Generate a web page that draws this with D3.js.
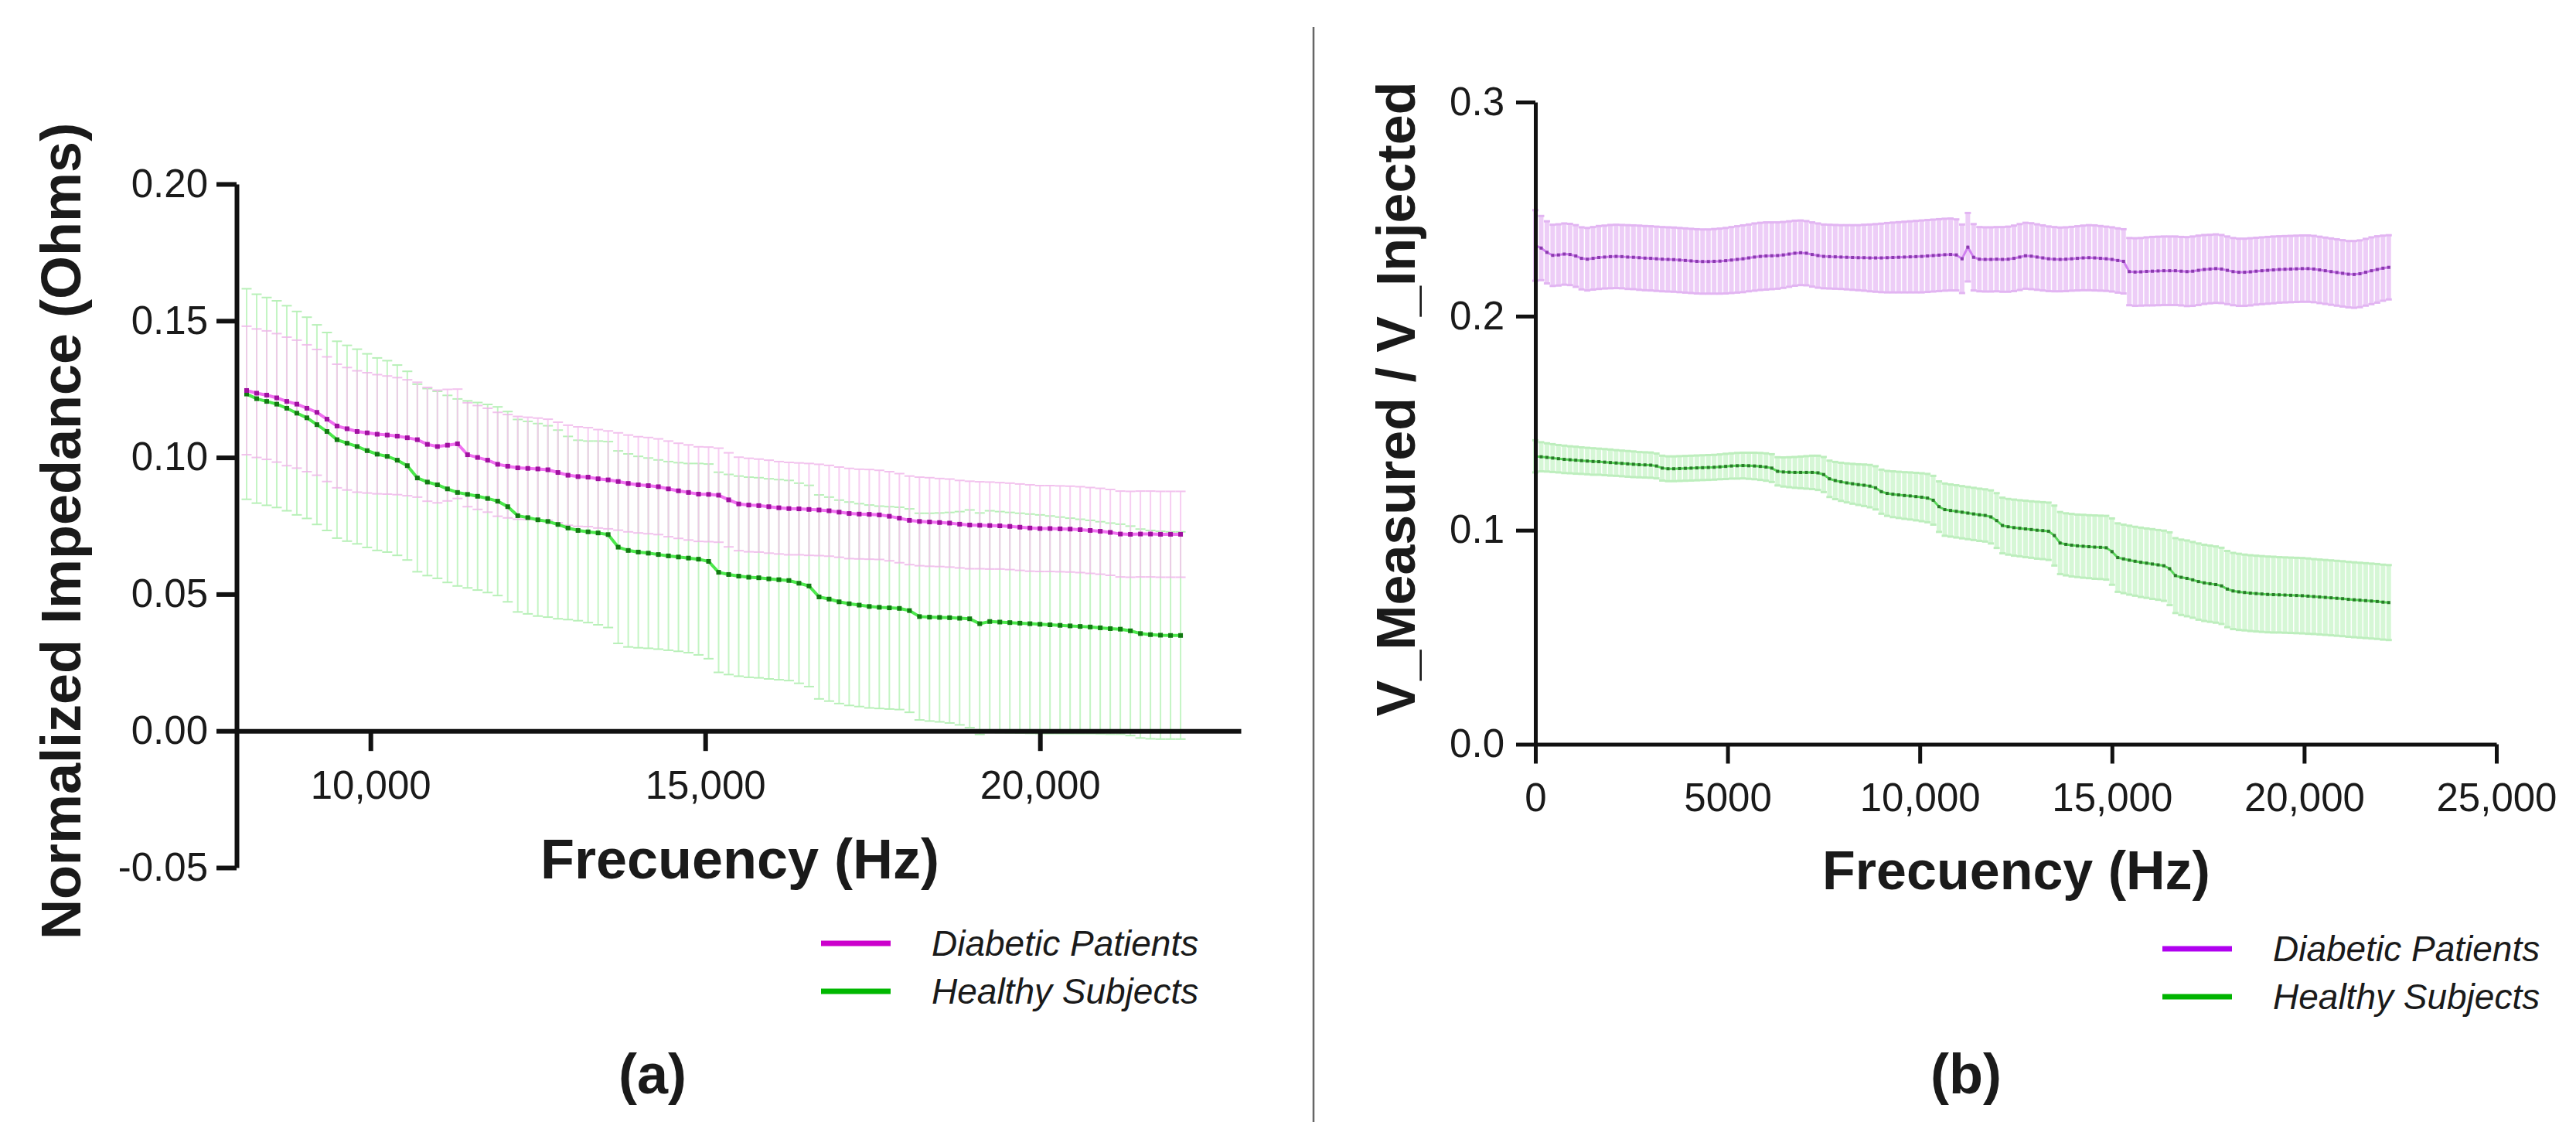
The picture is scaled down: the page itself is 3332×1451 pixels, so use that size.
<!DOCTYPE html>
<meta charset="utf-8">
<script src="https://d3js.org/d3.v7.min.js"></script>
<style>
body {
  margin: 0;
  background-color: white;
  overflow: hidden;
}
svg { display: block; }
text { font-family: "Liberation Sans", Arial, sans-serif; fill: #1a1a1a; }
</style>
<body>
<div id="rootElement"></div>
<script>

// ---- panel (a): normalized impedance ----
var freqA = [
  8150,8300,8450,8600,8750,8900,9050,9200,9350,9500,
  9650,9800,9950,10100,10250,10400,10550,10700,10850,11000,
  11150,11300,11450,11600,11750,11900,12050,12200,12350,12500,
  12650,12800,12950,13100,13250,13400,13550,13700,13850,14000,
  14150,14300,14450,14600,14750,14900,15050,15200,15350,15500,
  15650,15800,15950,16100,16250,16400,16550,16700,16850,17000,
  17150,17300,17450,17600,17750,17900,18050,18200,18350,18500,
  18650,18800,18950,19100,19250,19400,19550,19700,19850,20000,
  20150,20300,20450,20600,20750,20900,21050,21200,21350,21500,
  21650,21800,21950,22100
];
var diabeticMeanA = [
  0.1245,0.1235,0.1228,0.1218,0.1205,0.1195,0.1180,0.1165,0.1140,0.1115,
  0.1105,0.1095,0.1090,0.1085,0.1082,0.1078,0.1072,0.1065,0.1048,0.1040,
  0.1045,0.1050,0.1010,0.1000,0.0990,0.0975,0.0968,0.0962,0.0960,0.0958,
  0.0955,0.0945,0.0935,0.0930,0.0928,0.0922,0.0918,0.0912,0.0905,0.0900,
  0.0897,0.0893,0.0885,0.0878,0.0872,0.0866,0.0865,0.0862,0.0845,0.0830,
  0.0826,0.0824,0.0820,0.0816,0.0813,0.0812,0.0810,0.0808,0.0805,0.0800,
  0.0795,0.0793,0.0792,0.0790,0.0785,0.0778,0.0770,0.0766,0.0764,0.0762,
  0.0760,0.0756,0.0753,0.0752,0.0751,0.0750,0.0748,0.0745,0.0742,0.0740,
  0.0740,0.0739,0.0738,0.0736,0.0733,0.0730,0.0726,0.0720,0.0719,0.0720,
  0.0720,0.0719,0.0719,0.0719
];
var diabeticSdA = [
  0.0235,0.0235,0.0235,0.0235,0.0235,0.0234,0.0232,0.0230,0.0228,0.0226,
  0.0224,0.0222,0.0220,0.0218,0.0216,0.0214,0.0212,0.0210,0.0208,0.0206,
  0.0204,0.0200,0.0190,0.0190,0.0190,0.0190,0.0189,0.0188,0.0187,0.0186,
  0.0185,0.0184,0.0183,0.0182,0.0181,0.0180,0.0179,0.0178,0.0177,0.0176,
  0.0176,0.0175,0.0175,0.0174,0.0174,0.0173,0.0173,0.0172,0.0172,0.0171,
  0.0171,0.0170,0.0170,0.0169,0.0169,0.0168,0.0168,0.0167,0.0166,0.0165,
  0.0165,0.0164,0.0164,0.0163,0.0163,0.0163,0.0162,0.0162,0.0162,0.0161,
  0.0161,0.0160,0.0160,0.0159,0.0159,0.0158,0.0158,0.0158,0.0158,0.0157,
  0.0157,0.0157,0.0157,0.0157,0.0157,0.0157,0.0157,0.0157,0.0157,0.0157,
  0.0157,0.0157,0.0157,0.0157
];
var healthyMeanA = [
  0.1232,0.1215,0.1205,0.1195,0.1180,0.1162,0.1145,0.1120,0.1095,0.1065,
  0.1052,0.1040,0.1025,0.1012,0.1004,0.0990,0.0970,0.0925,0.0910,0.0900,
  0.0885,0.0872,0.0865,0.0858,0.0850,0.0840,0.0820,0.0787,0.0780,0.0772,
  0.0766,0.0755,0.0742,0.0733,0.0728,0.0724,0.0718,0.0672,0.0660,0.0654,
  0.0650,0.0645,0.0640,0.0636,0.0632,0.0628,0.0620,0.0580,0.0572,0.0566,
  0.0562,0.0560,0.0556,0.0553,0.0550,0.0540,0.0530,0.0490,0.0482,0.0472,
  0.0465,0.0460,0.0455,0.0452,0.0450,0.0448,0.0440,0.0418,0.0416,0.0415,
  0.0414,0.0412,0.0410,0.0392,0.0400,0.0398,0.0396,0.0394,0.0392,0.0390,
  0.0388,0.0386,0.0384,0.0382,0.0380,0.0377,0.0374,0.0372,0.0366,0.0356,
  0.0352,0.0350,0.0349,0.0349
];
var healthySdA = [
  0.0385,0.0382,0.0380,0.0378,0.0375,0.0372,0.0368,0.0365,0.0362,0.0360,
  0.0358,0.0356,0.0354,0.0352,0.0350,0.0348,0.0345,0.0343,0.0342,0.0342,
  0.0342,0.0342,0.0342,0.0343,0.0344,0.0345,0.0348,0.0352,0.0352,0.0352,
  0.0350,0.0345,0.0335,0.0330,0.0332,0.0336,0.0340,0.0352,0.0353,0.0350,
  0.0348,0.0346,0.0345,0.0345,0.0346,0.0350,0.0356,0.0366,0.0366,0.0366,
  0.0366,0.0366,0.0366,0.0366,0.0366,0.0366,0.0368,0.0373,0.0373,0.0372,
  0.0372,0.0371,0.0371,0.0370,0.0370,0.0370,0.0372,0.0378,0.0380,0.0382,
  0.0385,0.0390,0.0398,0.0405,0.0405,0.0404,0.0403,0.0402,0.0401,0.0400,
  0.0398,0.0396,0.0394,0.0392,0.0390,0.0388,0.0386,0.0384,0.0383,0.0382,
  0.0381,0.0380,0.0379,0.0379
];
var xTicksA = [10000, 15000, 20000];
var yTicksA = [-0.05, 0, 0.05, 0.10, 0.15, 0.20];

// ---- panel (b): V_Measured / V_Injected ----
var freqB = [
  0,150,300,450,600,750,900,1050,1200,1350,
  1500,1650,1800,1950,2100,2250,2400,2550,2700,2850,
  3000,3150,3300,3450,3600,3750,3900,4050,4200,4350,
  4500,4650,4800,4950,5100,5250,5400,5550,5700,5850,
  6000,6150,6300,6450,6600,6750,6900,7050,7200,7350,
  7500,7650,7800,7950,8100,8250,8400,8550,8700,8850,
  9000,9150,9300,9450,9600,9750,9900,10050,10200,10350,
  10500,10650,10800,10950,11100,11250,11400,11550,11700,11850,
  12000,12150,12300,12450,12600,12750,12900,13050,13200,13350,
  13500,13650,13800,13950,14100,14250,14400,14550,14700,14850,
  15000,15150,15300,15450,15600,15750,15900,16050,16200,16350,
  16500,16650,16800,16950,17100,17250,17400,17550,17700,17850,
  18000,18150,18300,18450,18600,18750,18900,19050,19200,19350,
  19500,19650,19800,19950,20100,20250,20400,20550,20700,20850,
  21000,21150,21300,21450,21600,21750,21900,22050,22200
];
var diabeticMeanB = [
  0.2330,0.2318,0.2298,0.2284,0.2286,0.2290,0.2288,0.2281,0.2270,0.2266,
  0.2270,0.2274,0.2276,0.2278,0.2279,0.2278,0.2276,0.2275,0.2273,0.2271,
  0.2270,0.2268,0.2266,0.2265,0.2264,0.2262,0.2260,0.2258,0.2256,0.2255,
  0.2255,0.2256,0.2257,0.2259,0.2262,0.2265,0.2268,0.2272,0.2276,0.2279,
  0.2281,0.2282,0.2283,0.2286,0.2290,0.2294,0.2296,0.2294,0.2288,0.2283,
  0.2279,0.2278,0.2277,0.2276,0.2275,0.2274,0.2273,0.2273,0.2272,0.2272,
  0.2272,0.2273,0.2274,0.2275,0.2276,0.2277,0.2278,0.2279,0.2281,0.2283,
  0.2285,0.2287,0.2288,0.2286,0.2268,0.2322,0.2275,0.2266,0.2265,0.2265,
  0.2266,0.2265,0.2266,0.2270,0.2276,0.2282,0.2280,0.2276,0.2272,0.2268,
  0.2266,0.2265,0.2266,0.2268,0.2270,0.2272,0.2273,0.2272,0.2270,0.2268,
  0.2265,0.2260,0.2256,0.2208,0.2206,0.2207,0.2209,0.2210,0.2211,0.2212,
  0.2212,0.2212,0.2210,0.2208,0.2210,0.2214,0.2218,0.2220,0.2222,0.2220,
  0.2214,0.2208,0.2205,0.2205,0.2207,0.2210,0.2212,0.2214,0.2216,0.2218,
  0.2219,0.2220,0.2221,0.2222,0.2222,0.2220,0.2216,0.2212,0.2208,0.2204,
  0.2200,0.2196,0.2195,0.2198,0.2205,0.2212,0.2218,0.2224,0.2228
];
var diabeticSdB = [
  0.0165,0.0150,0.0145,0.0143,0.0143,0.0143,0.0143,0.0144,0.0145,0.0146,
  0.0146,0.0147,0.0147,0.0148,0.0148,0.0148,0.0149,0.0149,0.0150,0.0150,
  0.0150,0.0150,0.0150,0.0150,0.0150,0.0150,0.0150,0.0150,0.0150,0.0150,
  0.0150,0.0151,0.0152,0.0153,0.0154,0.0155,0.0156,0.0156,0.0157,0.0157,
  0.0157,0.0156,0.0155,0.0154,0.0153,0.0152,0.0151,0.0150,0.0150,0.0150,
  0.0149,0.0149,0.0149,0.0149,0.0150,0.0151,0.0152,0.0154,0.0156,0.0158,
  0.0160,0.0162,0.0163,0.0164,0.0165,0.0166,0.0167,0.0168,0.0168,0.0168,
  0.0168,0.0168,0.0168,0.0166,0.0160,0.0160,0.0155,0.0150,0.0150,0.0150,
  0.0150,0.0151,0.0152,0.0153,0.0154,0.0154,0.0154,0.0153,0.0152,0.0151,
  0.0150,0.0149,0.0149,0.0149,0.0150,0.0151,0.0152,0.0152,0.0151,0.0150,
  0.0150,0.0150,0.0150,0.0157,0.0158,0.0158,0.0159,0.0160,0.0160,0.0160,
  0.0160,0.0160,0.0160,0.0161,0.0162,0.0162,0.0161,0.0160,0.0160,0.0159,
  0.0158,0.0157,0.0157,0.0157,0.0157,0.0156,0.0156,0.0156,0.0156,0.0155,
  0.0155,0.0155,0.0155,0.0155,0.0155,0.0155,0.0155,0.0155,0.0155,0.0155,
  0.0155,0.0155,0.0156,0.0156,0.0156,0.0156,0.0155,0.0152,0.0150
];
var healthyMeanB = [
  0.1345,0.1343,0.1340,0.1337,0.1334,0.1331,0.1329,0.1327,0.1325,0.1323,
  0.1321,0.1320,0.1318,0.1316,0.1314,0.1312,0.1310,0.1308,0.1306,0.1305,
  0.1304,0.1300,0.1290,0.1287,0.1287,0.1288,0.1289,0.1290,0.1291,0.1292,
  0.1293,0.1294,0.1296,0.1298,0.1300,0.1301,0.1302,0.1301,0.1300,0.1298,
  0.1295,0.1290,0.1275,0.1272,0.1271,0.1270,0.1270,0.1270,0.1270,0.1268,
  0.1260,0.1240,0.1232,0.1226,0.1221,0.1217,0.1213,0.1210,0.1206,0.1198,
  0.1180,0.1172,0.1168,0.1165,0.1162,0.1160,0.1157,0.1154,0.1150,0.1140,
  0.1110,0.1096,0.1092,0.1088,0.1084,0.1080,0.1076,0.1072,0.1069,0.1062,
  0.1045,0.1022,0.1016,0.1012,0.1009,0.1006,0.1003,0.1000,0.0998,0.0995,
  0.0975,0.0940,0.0934,0.0930,0.0927,0.0925,0.0923,0.0921,0.0920,0.0918,
  0.0900,0.0872,0.0866,0.0860,0.0855,0.0850,0.0846,0.0842,0.0838,0.0834,
  0.0820,0.0788,0.0780,0.0775,0.0768,0.0760,0.0754,0.0750,0.0746,0.0740,
  0.0725,0.0716,0.0712,0.0709,0.0706,0.0704,0.0702,0.0700,0.0699,0.0698,
  0.0697,0.0696,0.0695,0.0694,0.0692,0.0690,0.0688,0.0686,0.0684,0.0682,
  0.0680,0.0677,0.0675,0.0673,0.0671,0.0669,0.0667,0.0664,0.0662
];
var healthySdB = [
  0.0075,0.0068,0.0066,0.0065,0.0064,0.0064,0.0063,0.0063,0.0062,0.0062,
  0.0062,0.0061,0.0061,0.0061,0.0060,0.0060,0.0060,0.0060,0.0059,0.0059,
  0.0059,0.0058,0.0058,0.0058,0.0058,0.0058,0.0058,0.0058,0.0058,0.0058,
  0.0058,0.0058,0.0058,0.0059,0.0059,0.0060,0.0060,0.0061,0.0062,0.0063,
  0.0064,0.0065,0.0066,0.0068,0.0070,0.0072,0.0074,0.0076,0.0078,0.0080,
  0.0082,0.0085,0.0087,0.0089,0.0091,0.0093,0.0095,0.0097,0.0099,0.0101,
  0.0103,0.0105,0.0107,0.0108,0.0109,0.0110,0.0111,0.0112,0.0113,0.0114,
  0.0118,0.0122,0.0122,0.0122,0.0122,0.0122,0.0122,0.0122,0.0122,0.0124,
  0.0128,0.0130,0.0130,0.0131,0.0131,0.0132,0.0132,0.0133,0.0133,0.0134,
  0.0140,0.0145,0.0145,0.0146,0.0146,0.0147,0.0147,0.0148,0.0148,0.0149,
  0.0155,0.0160,0.0160,0.0161,0.0161,0.0162,0.0162,0.0163,0.0163,0.0164,
  0.0170,0.0175,0.0176,0.0177,0.0177,0.0178,0.0178,0.0178,0.0178,0.0178,
  0.0178,0.0178,0.0178,0.0177,0.0177,0.0177,0.0177,0.0177,0.0177,0.0176,
  0.0176,0.0176,0.0176,0.0176,0.0176,0.0175,0.0175,0.0175,0.0175,0.0175,
  0.0175,0.0175,0.0175,0.0175,0.0175,0.0175,0.0175,0.0175,0.0175
];
var xTicksB = [0, 5000, 10000, 15000, 20000, 25000];
var yTicksB = [0, 0.1, 0.2, 0.3];

var seriesNames = ['Diabetic Patients', 'Healthy Subjects'];

var
  width = 3332,
  height = 1451,
  svg = d3.select('#rootElement').append('svg')
          .attr('width', width)
          .attr('height', height);

var zip = function(freq, mean, sd) {
  return freq.map(function(f, i) { return {f: f, m: mean[i], s: sd[i]}; });
};

var drawPanel = function(p) {
  var g = svg.append('g');

  // error bars, healthy first so the diabetic ones sit on top
  p.series.forEach(function(s) {
    var bars = g.append('g').attr('opacity', s.barOpacity);
    bars.selectAll('line.v').data(s.data).enter().append('line')
      .attr('x1', function(d) { return p.x(d.f); })
      .attr('x2', function(d) { return p.x(d.f); })
      .attr('y1', function(d) { return p.y(d.m + d.s); })
      .attr('y2', function(d) { return p.y(d.m - d.s); })
      .attr('stroke', s.bar)
      .attr('stroke-width', p.barWidth);
    [1, -1].forEach(function(sign) {
      bars.selectAll('line.c' + sign).data(s.data).enter().append('line')
        .attr('x1', function(d) { return p.x(d.f) - p.capWidth / 2; })
        .attr('x2', function(d) { return p.x(d.f) + p.capWidth / 2; })
        .attr('y1', function(d) { return p.y(d.m + sign * d.s); })
        .attr('y2', function(d) { return p.y(d.m + sign * d.s); })
        .attr('stroke', s.cap)
        .attr('stroke-width', p.capStroke);
    });
  });

  // mean lines: light connecting line with dark square markers (dotted look)
  p.series.forEach(function(s) {
    var line = d3.line()
      .x(function(d) { return p.x(d.f); })
      .y(function(d) { return p.y(d.m); });
    g.append('path')
      .datum(s.data)
      .attr('d', line)
      .attr('fill', 'none')
      .attr('stroke', s.line)
      .attr('stroke-width', p.lineWidth);
    g.selectAll(null).data(s.data).enter().append('rect')
      .attr('x', function(d) { return p.x(d.f) - p.dot / 2; })
      .attr('y', function(d) { return p.y(d.m) - p.dot / 2; })
      .attr('width', p.dot)
      .attr('height', p.dot)
      .attr('fill', s.dark);
  });

  // axes
  var yAxis = d3.axisLeft(p.y).tickValues(p.yTicks).tickSize(p.tick)
                .tickSizeOuter(0).tickPadding(p.yPad).tickFormat(p.yFormat);
  var xAxis = d3.axisBottom(p.x).tickValues(p.xTicks).tickSize(p.tick)
                .tickSizeOuter(0).tickPadding(p.xPad).tickFormat(p.xFormat);

  var gy = g.append('g').attr('transform', 'translate(' + p.x.range()[0] + ',0)').call(yAxis);
  var gx = g.append('g').attr('transform', 'translate(0,' + p.y(0) + ')').call(xAxis);
  [gx, gy].forEach(function(a) {
    a.attr('font-size', 51).attr('font-family', '"Liberation Sans", Arial, sans-serif');
    a.selectAll('path, line').attr('stroke', '#111').attr('stroke-width', p.axisWidth);
    a.selectAll('text').attr('fill', '#1a1a1a');
  });

  // titles
  g.append('text')
    .attr('transform', 'translate(' + p.yTitleX + ',' + p.yTitleY + ') rotate(-90)')
    .attr('text-anchor', 'middle')
    .attr('font-size', p.titleSize)
    .attr('font-weight', 'bold')
    .text(p.yTitle);
  g.append('text')
    .attr('x', p.xTitleX)
    .attr('y', p.xTitleY)
    .attr('text-anchor', 'middle')
    .attr('font-size', p.titleSize)
    .attr('font-weight', 'bold')
    .text('Frecuency (Hz)');
  g.append('text')
    .attr('x', p.labelX)
    .attr('y', 1414)
    .attr('text-anchor', 'middle')
    .attr('font-size', 72)
    .attr('font-weight', 'bold')
    .text(p.label);

  // legend
  var legend = g.selectAll('g.legend').data(p.series.slice().reverse()).enter().append('g')
    .attr('transform', function(d, i) { return 'translate(' + p.legendX + ',' + (p.legendY + i * 62) + ')'; });
  legend.append('line')
    .attr('x1', 0).attr('x2', 90)
    .attr('stroke', function(d) { return d.legend; })
    .attr('stroke-width', 7);
  legend.append('text')
    .attr('x', 143)
    .attr('y', 16)
    .attr('font-size', 46)
    .attr('font-style', 'italic')
    .text(function(d) { return d.name; });
};

drawPanel({
  x: d3.scaleLinear().domain([8000, 23000]).range([306, 1605]),
  y: d3.scaleLinear().domain([-0.05, 0.20]).range([1122, 238]),
  xTicks: xTicksA, yTicks: yTicksA,
  xFormat: d3.format(','), yFormat: function(d) { return d.toFixed(2); },
  tick: 26, xPad: 26, yPad: 11, axisWidth: 6,
  barWidth: 2, capWidth: 13, capStroke: 2, lineWidth: 4, dot: 6,
  yTitle: 'Normalized Impedance (Ohms)', yTitleX: 104, yTitleY: 687,
  xTitleX: 957, xTitleY: 1136, titleSize: 72,
  label: '(a)', labelX: 844,
  legendX: 1062, legendY: 1220,
  series: [
    {name: seriesNames[1], data: zip(freqA, healthyMeanA, healthySdA),
     bar: '#c4f5c4', cap: '#b8f0b8', barOpacity: 1, line: '#4ce84c', dark: '#127a12', legend: '#00b800'},
    {name: seriesNames[0], data: zip(freqA, diabeticMeanA, diabeticSdA),
     bar: '#f6c2ef', cap: '#f0b4ea', barOpacity: 0.8, line: '#f070f0', dark: '#a010a0', legend: '#cc00cc'}
  ]
});

drawPanel({
  x: d3.scaleLinear().domain([0, 25000]).range([1986, 3229]),
  y: d3.scaleLinear().domain([0, 0.3]).range([962.5, 132]),
  xTicks: xTicksB, yTicks: yTicksB,
  xFormat: function(d) { return d >= 10000 ? d3.format(',')(d) : String(d); },
  yFormat: function(d) { return d.toFixed(1); },
  tick: 25, xPad: 25, yPad: 15, axisWidth: 5,
  barWidth: 6, capWidth: 8, capStroke: 3, lineWidth: 3, dot: 4,
  yTitle: 'V_Measured / V_Injected', yTitleX: 1830, yTitleY: 516,
  xTitleX: 2608, xTitleY: 1150, titleSize: 70,
  label: '(b)', labelX: 2543,
  legendX: 2797, legendY: 1227,
  series: [
    {name: seriesNames[1], data: zip(freqB, healthyMeanB, healthySdB),
     bar: '#d6f7d6', cap: '#bdeebd', barOpacity: 1, line: '#5cd85c', dark: '#2a7a2a', legend: '#00b400'},
    {name: seriesNames[0], data: zip(freqB, diabeticMeanB, diabeticSdB),
     bar: '#edcdf7', cap: '#e2b5f2', barOpacity: 1, line: '#d080f0', dark: '#8a3aae', legend: '#b000f0'}
  ]
});

// divider between the two panels
svg.append('line')
  .attr('x1', 1699).attr('x2', 1699)
  .attr('y1', 35).attr('y2', height)
  .attr('stroke', '#666')
  .attr('stroke-width', 2.5);

</script>
</body>
